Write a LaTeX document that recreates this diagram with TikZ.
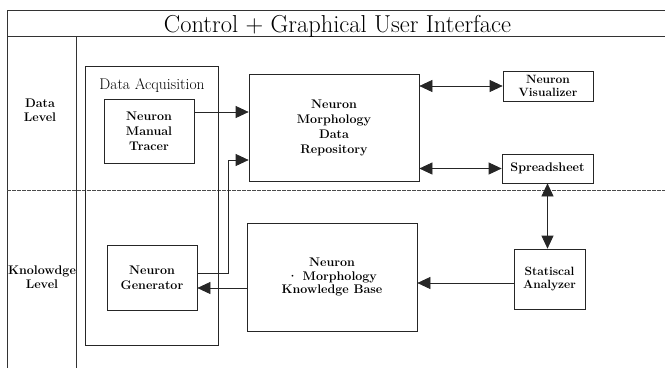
\documentclass[tikz,border=0pt]{standalone}
\usetikzlibrary{arrows.meta}
\begin{document}
\begin{tikzpicture}[x=1pt,y=-1pt,
  box/.style={draw=black!85, line width=0.7pt, rectangle, inner sep=0pt, align=center,
              font=\fontsize{12.5}{15}\selectfont\bfseries},
  frameline/.style={draw=black!80, line width=0.7pt},
  divline/.style={draw=black!70, line width=0.6pt, dash pattern=on 4pt off 1pt},
  arr/.style={draw=black!85, line width=0.7pt, -{Triangle[length=13pt,width=12pt]}},
  darr/.style={draw=black!85, line width=0.7pt,
               {Triangle[length=13pt,width=12pt]}-{Triangle[length=13pt,width=12pt]}},
  lvl/.style={font=\fontsize{12.5}{14}\selectfont\bfseries, align=center, inner sep=0pt},
  ttl/.style={font=\fontsize{24.5}{27}\selectfont, inner sep=0pt, anchor=base},
  datitle/.style={font=\fontsize{15.5}{17}\selectfont, inner sep=0pt, anchor=base}]
\useasboundingbox (0,0) rectangle (665,368);

% frame
\draw[frameline] (665,10) -- (7,10) -- (7,368);
\draw[frameline] (7,36) -- (665,36);
\draw[frameline] (76,36) -- (76,368);
\draw[divline] (7,190) -- (665,190);

% title and level labels
\node[ttl] (title) at (337.5,32) {Control + Graphical User Interface};
\node[lvl] (datalevel) at (40,110) {Data\\Level};
\node[lvl] (knowlevel) at (42,277) {Knolowdge\\Level};

% data acquisition group
\node[box, minimum width=133pt, minimum height=279pt] (da) at (151.5,205.5) {};
\node[datitle] (datxt) at (152,89) {Data Acquisition};
\node[box, minimum width=90pt, minimum height=64pt] (tracer) at (149,131) {Neuron\\Manual\\Tracer};
\node[box, minimum width=90pt, minimum height=65pt] (gen) at (152,277.5) {Neuron\\Generator};

% main boxes
\node[box, minimum width=170pt, minimum height=107pt] (repo) at (334,127.5)
  {Neuron\\Morphology\\Data\\Repository};
\node[box, minimum width=170pt, minimum height=108pt, font=\fontsize{12.5}{13.5}\selectfont\bfseries] (kb) at (332,277)
  {Neuron\\· Morphology\\Knowledge Base};
\node[box, minimum width=90pt, minimum height=30pt, font=\fontsize{12}{13}\selectfont\bfseries] (vis) at (548,86) {Neuron\\Visualizer};
\node[box, minimum width=91pt, minimum height=29pt] (ss) at (547.5,168.5) {Spreadsheet};
\node[box, minimum width=71pt, minimum height=60pt, font=\fontsize{12}{13.5}\selectfont\bfseries] (sa) at (549.5,279) {Statiscal\\Analyzer};

% connectors
\draw[darr] (repo.east |- vis.west) -- (vis.west);
\draw[darr] (repo.east |- ss.west) -- (ss.west);
\draw[darr] (ss.south) -- (ss.south |- sa.north);
\draw[arr] ([yshift=-4pt]sa.west) -- ([yshift=-4pt]sa.west -| kb.east);
\draw[arr] ([yshift=-11pt]kb.west) -- ([yshift=-11pt]kb.west -| gen.east);
\draw[arr] ([yshift=19pt]tracer.east) -- ([yshift=19pt]tracer.east -| repo.west);
\coordinate (bend) at (228,160);
\draw[arr] ([yshift=4.5pt]gen.east) -| (bend) -- (bend -| repo.west);
\end{tikzpicture}
\end{document}
